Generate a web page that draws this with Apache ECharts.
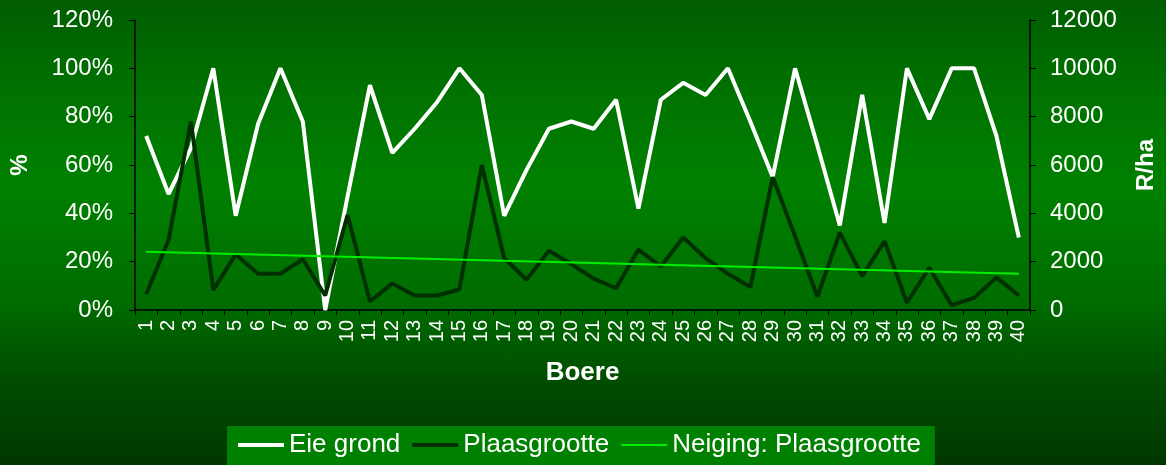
<!DOCTYPE html>
<html>
<head>
<meta charset="utf-8">
<script src="https://cdn.jsdelivr.net/npm/echarts@6/dist/echarts.min.js"></script>
<style>
html,body{margin:0;padding:0;}
#chart{width:1166px;height:465px;background:linear-gradient(to bottom,#005d00 0%,#007200 20%,#008000 40%,#006c00 65%,#004c00 82%,#003700 100%);}
</style>
</head>
<body>
<div id="chart"></div>
<script>
const boere = Array.from({length: 40}, (_, i) => String(i + 1));
const eieGrond = [72,48,67,100,39,77,100,78,0,47,93,65,75,86,100,89,39,58,75,78,75,87,42,87,94,89,100,78,55,100,68,35,89,36,100,79,100,100,72,30];
const plaasgrootte = [650,2900,7800,830,2300,1500,1500,2100,600,3930,350,1100,600,600,850,6000,2150,1250,2450,1900,1300,900,2500,1800,3000,2150,1500,950,5500,3050,550,3200,1400,2850,300,1750,200,500,1350,600];
const neigingPunte = [['1', 2410], ['40', 1500]];
const leftTicks = {min: 0, max: 120, interval: 20};
const rightTicks = {min: 0, max: 12000, interval: 2000};

const font = 'Liberation Sans, Arial, sans-serif';
const chart = echarts.init(document.getElementById('chart'));
chart.setOption({
  backgroundColor: 'transparent',
  animation: false,
  textStyle: {fontFamily: font},
  grid: {left: 135, right: 133, top: 20, bottom: 155, containLabel: false},
  legend: {
    top: 426, left: 227,
    backgroundColor: '#008000',
    padding: [6, 14, 8, 11],
    itemWidth: 46, itemHeight: 12, itemGap: 12,
    textStyle: {color: '#ffffff', fontSize: 26, fontFamily: font},
    data: [
      {name: 'Eie grond', icon: 'path://M0,0 L46,0 L46,4 L0,4 Z', itemStyle: {color: '#ffffff'}},
      {name: 'Plaasgrootte', icon: 'path://M0,0 L46,0 L46,4 L0,4 Z', itemStyle: {color: '#003000'}},
      {name: 'Neiging: Plaasgrootte', icon: 'path://M0,0 L46,0 L46,2 L0,2 Z', itemStyle: {color: '#00ee00'}}
    ]
  },
  xAxis: {
    type: 'category',
    data: boere,
    boundaryGap: true,
    name: 'Boere',
    nameLocation: 'middle',
    nameGap: 50,
    nameTextStyle: {color: '#ffffff', fontSize: 26, fontWeight: 'bold', fontFamily: font},
    axisLine: {lineStyle: {color: '#000000', width: 1.5}},
    axisTick: {show: true, length: 5, lineStyle: {color: '#000000'}, alignWithLabel: false},
    axisLabel: {color: '#ffffff', fontSize: 20, rotate: 90, margin: 10, interval: 0, fontFamily: font},
    splitLine: {show: false}
  },
  yAxis: [
    {
      type: 'value', position: 'left',
      min: leftTicks.min, max: leftTicks.max, interval: leftTicks.interval,
      name: '%', nameLocation: 'middle', nameGap: 103, nameRotate: 90,
      nameTextStyle: {color: '#ffffff', fontSize: 24, fontWeight: 'bold', fontFamily: font},
      axisLine: {show: true, lineStyle: {color: '#000000', width: 1.5}},
      axisTick: {show: true, length: 6, lineStyle: {color: '#000000'}},
      axisLabel: {color: '#ffffff', fontSize: 24, margin: 22, formatter: '{value}%', fontFamily: font},
      splitLine: {show: false}
    },
    {
      type: 'value', position: 'right',
      min: rightTicks.min, max: rightTicks.max, interval: rightTicks.interval,
      name: 'R/ha', nameLocation: 'middle', nameGap: 104, nameRotate: 90,
      nameTextStyle: {color: '#ffffff', fontSize: 24, fontWeight: 'bold', fontFamily: font},
      axisLine: {show: true, lineStyle: {color: '#000000', width: 1.5}},
      axisTick: {show: true, length: 6, lineStyle: {color: '#000000'}},
      axisLabel: {color: '#ffffff', fontSize: 24, margin: 20, fontFamily: font, formatter: v => String(v)},
      splitLine: {show: false}
    }
  ],
  series: [
    {
      name: 'Eie grond', type: 'line', yAxisIndex: 0, data: eieGrond,
      symbol: 'none', lineStyle: {color: '#ffffff', width: 4}, itemStyle: {color: '#ffffff'}, z: 3
    },
    {
      name: 'Plaasgrootte', type: 'line', yAxisIndex: 1, data: plaasgrootte,
      symbol: 'none', lineStyle: {color: '#003000', width: 4}, itemStyle: {color: '#003000'}, z: 4
    },
    {
      name: 'Neiging: Plaasgrootte', type: 'line', yAxisIndex: 1, data: neigingPunte,
      symbol: 'none', lineStyle: {color: '#00ee00', width: 2}, itemStyle: {color: '#00ee00'}, z: 5
    }
  ]
});
</script>
</body>
</html>
